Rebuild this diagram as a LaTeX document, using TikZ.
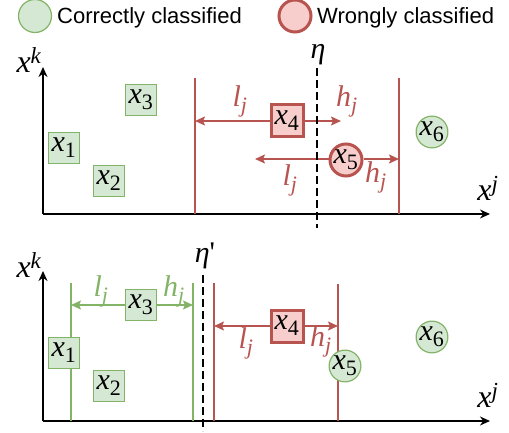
\documentclass[tikz,border=0pt]{standalone}
\usepackage{fontspec}
\setsansfont{Liberation Sans}
\newfontfamily\tnr{Liberation Serif}
\DeclareMathSizes{30}{30}{22}{16}
\DeclareMathSizes{32}{32}{23}{17}
\newcommand\mvd[2]{{\tnr\itshape #1\textsubscript{\upshape #2}}}
\newcommand\mvs[2]{{\tnr\itshape #1\textsubscript{#2}}}
\newcommand\mvsup[2]{{\tnr\itshape #1\textsuperscript{#2}}}
\usetikzlibrary{arrows.meta}
\definecolor{gfill}{HTML}{D5E8D4}
\definecolor{gdraw}{HTML}{82B366}
\definecolor{rfill}{HTML}{F8CECC}
\definecolor{rdraw}{HTML}{B85450}
\tikzset{
  mathtxt/.style={font=\fontsize{30}{30}\selectfont},
  axlab/.style={font=\fontsize{32}{32}\selectfont},
  legtxt/.style={font=\sffamily\fontsize{22}{22}\selectfont, anchor=base west, inner sep=0pt},
  gbox/.style={mathtxt, draw=gdraw, fill=gfill, line width=1.2pt, minimum size=31pt, inner sep=0pt},
  rbox/.style={mathtxt, draw=rdraw, fill=rfill, line width=3pt, minimum size=32pt, inner sep=0pt},
  gcirc/.style={mathtxt, circle, draw=gdraw, fill=gfill, line width=1.2pt, minimum size=31pt, inner sep=0pt},
  rcirc/.style={mathtxt, circle, draw=rdraw, fill=rfill, line width=3pt, minimum size=32pt, inner sep=0pt},
  axisarr/.style={line width=1.5pt, -{Stealth[length=10pt,width=9pt]}},
  rline/.style={draw=rdraw, line width=2pt},
  gline/.style={draw=gdraw, line width=2pt},
  rarr/.style={draw=rdraw, line width=1.5pt, -{Stealth[length=10pt,width=9pt,inset=2pt]}},
  garr/.style={draw=gdraw, line width=1.5pt, -{Stealth[length=10pt,width=9pt,inset=2pt]}},
  etaline/.style={line width=2.5pt, dash pattern=on 8pt off 4pt},
  rlab/.style={mathtxt, text=rdraw, inner sep=0pt},
  glab/.style={mathtxt, text=gdraw, inner sep=0pt},
}
\begin{document}
\begin{tikzpicture}[x=1pt,y=-1pt]
\useasboundingbox (0,0) rectangle (509,433);
% legend
\node[circle, draw=gdraw, fill=gfill, line width=1.2pt, minimum size=33pt, inner sep=0] (lg) at (35,16) {};
\node[legtxt] (lgt) at (57,24) {Correctly classified};
\node[circle, draw=rdraw, fill=rfill, line width=3pt, minimum size=32pt, inner sep=0] (lr) at (295,16) {};
\node[legtxt] (lrt) at (317,24) {Wrongly classified};

% ===== top panel =====
\coordinate (o1) at (43,214);
\coordinate (ya1) at (43,67);
\coordinate (xa1) at (490,214);
\draw[axisarr] (o1) -- (ya1);
\draw[axisarr] (o1) -- (xa1);
\node[axlab] (xk1) at (29,60) {\mvsup{x}{k}};
\node[axlab] (xj1) at (488,188) {\mvsup{x}{j}};

\coordinate (L1t) at (195,78); \coordinate (L1b) at (195,214);
\coordinate (L2t) at (399,78); \coordinate (L2b) at (399,214);
\draw[rline] (L1t) -- (L1b);
\draw[rline] (L2t) -- (L2b);

\node[gbox] (x1a) at (64,148) {\mvd{x}{1}};
\node[gbox] (x2a) at (109,181) {\mvd{x}{2}};
\node[gbox] (x3a) at (141,100) {\mvd{x}{3}};

\node[rbox] (x4a) at (287,121) {\mvd{x}{4}};
\coordinate (h4a) at (341,121);
\draw[rarr] (x4a.west) -- (x4a.west -| L1t);
\draw[rarr] (x4a.east) -- (h4a);
\node[rlab] (l4a) at (240,101) {\mvs{l}{j}};
\node[rlab] (hh4a) at (347,101) {\mvs{h}{j}};

\node[rcirc] (x5a) at (346,160) {\mvd{x}{5}};
\coordinate (l5a) at (255,159);
\draw[rarr] (x5a.west |- l5a) -- (l5a);
\draw[rarr] (x5a.east |- l5a) -- (l5a -| L2t);
\node[rlab] (l5lab) at (290,180) {\mvs{l}{j}};
\node[rlab] (h5lab) at (376,177) {\mvs{h}{j}};

\node[gcirc] (x6a) at (432,132) {\mvd{x}{6}};

\coordinate (eta1t) at (317,68); \coordinate (eta1b) at (317,228);
\draw[etaline] (eta1t) -- (eta1b);
\node[mathtxt] (eta1) at (318,55) {{\tnr\itshape η}};

% ===== bottom panel =====
\coordinate (o2) at (43,421);
\coordinate (ya2) at (43,271);
\coordinate (xa2) at (490,421);
\draw[axisarr] (o2) -- (ya2);
\draw[axisarr] (o2) -- (xa2);
\node[axlab] (xk2) at (29,265) {\mvsup{x}{k}};
\node[axlab] (xj2) at (488,395) {\mvsup{x}{j}};

\coordinate (G1t) at (71,283); \coordinate (G1b) at (71,421);
\coordinate (G2t) at (193,283); \coordinate (G2b) at (193,421);
\coordinate (R1t) at (214,283); \coordinate (R1b) at (214,421);
\coordinate (R2t) at (338,284); \coordinate (R2b) at (338,421);
\draw[gline] (G1t) -- (G1b);
\draw[gline] (G2t) -- (G2b);
\draw[rline] (R1t) -- (R1b);
\draw[rline] (R2t) -- (R2b);

\node[gbox] (x1b) at (64,353) {\mvd{x}{1}};
\node[gbox] (x2b) at (109,386) {\mvd{x}{2}};
\node[gbox] (x3b) at (141,305) {\mvd{x}{3}};
\draw[garr] (x3b.west) -- (x3b.west -| G1t);
\draw[garr] (x3b.east) -- (x3b.east -| G2t);
\node[glab] (l3b) at (101,291) {\mvs{l}{j}};
\node[glab] (h3b) at (174,291) {\mvs{h}{j}};

\coordinate (eta2t) at (203,275); \coordinate (eta2b) at (203,431);
\draw[etaline] (eta2t) -- (eta2b);
\node[mathtxt] (eta2) at (205,256) {{\tnr\itshape η}{\tnr\textquotesingle}};

\node[rbox] (x4b) at (287,326) {\mvd{x}{4}};
\draw[rarr] (x4b.west) -- (x4b.west -| R1t);
\draw[rarr] (x4b.east) -- (x4b.east -| R2t);
\node[rlab] (l4b) at (246,343) {\mvs{l}{j}};
\node[rlab] (h4b) at (321,341) {\mvs{h}{j}};

\node[gcirc] (x5b) at (345,366) {\mvd{x}{5}};
\node[gcirc] (x6b) at (432,337) {\mvd{x}{6}};
\end{tikzpicture}
\end{document}
